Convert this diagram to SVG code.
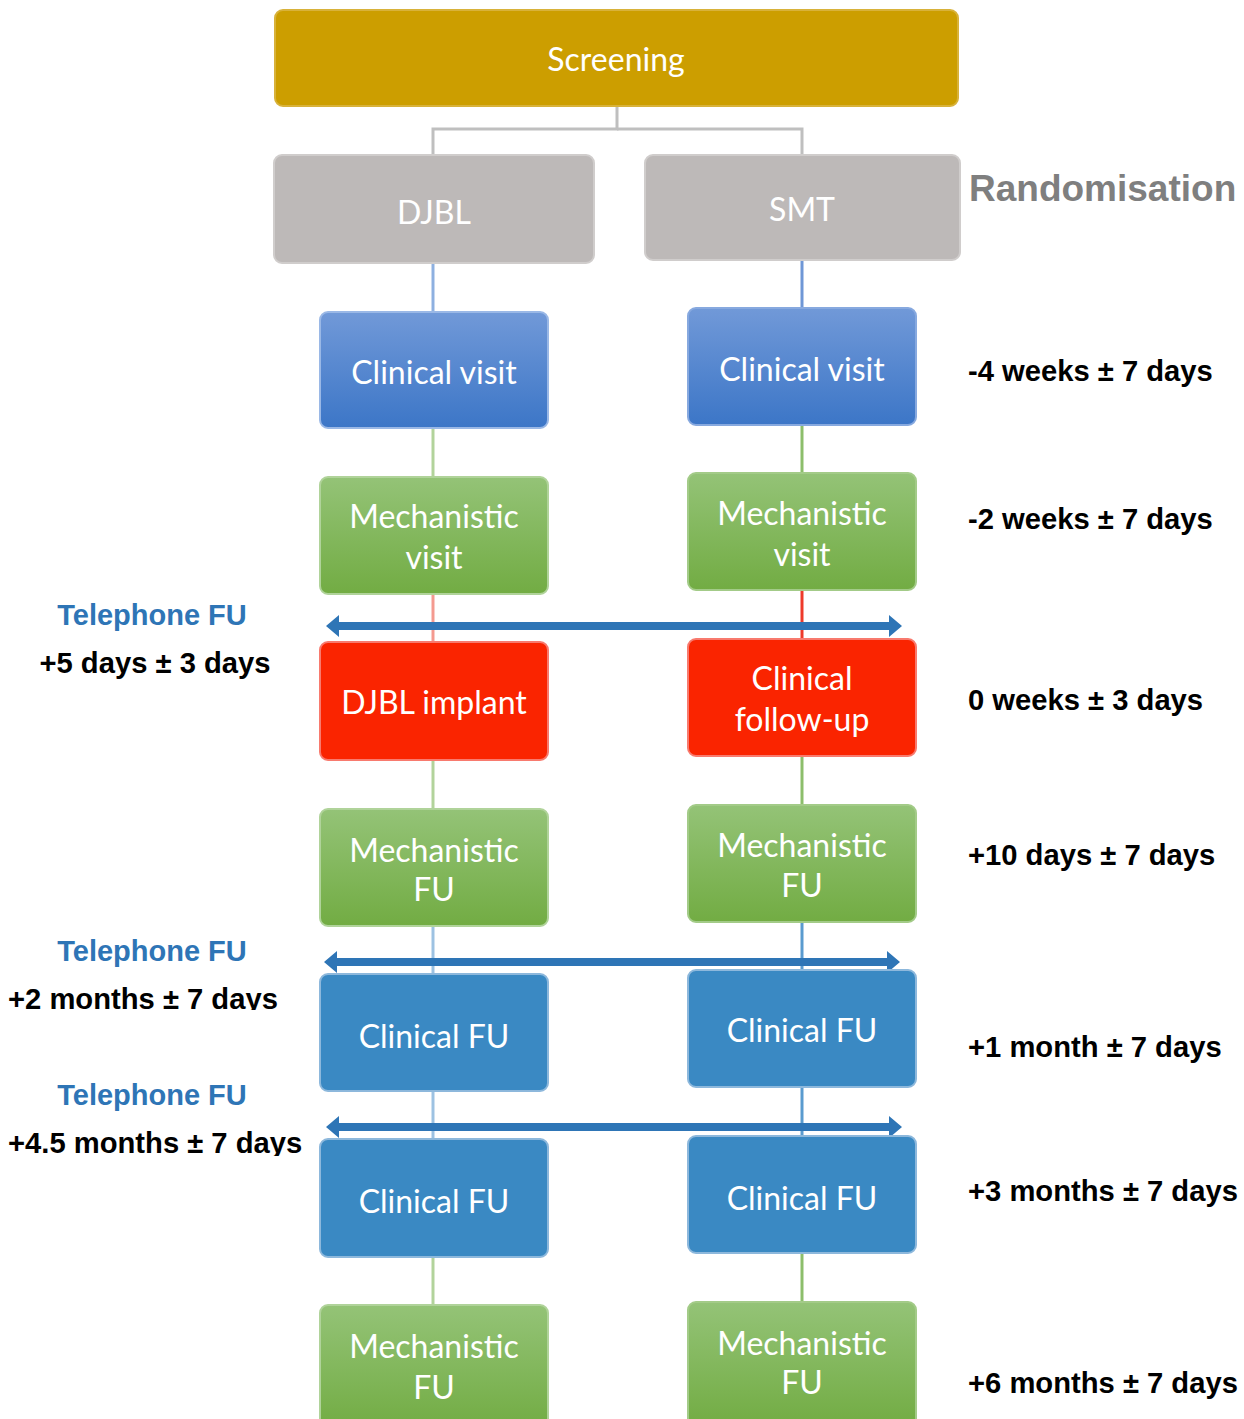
<svg xmlns="http://www.w3.org/2000/svg" width="1244" height="1419" viewBox="0 0 1244 1419">
<defs>
<linearGradient id="gBlue" x1="0" y1="0" x2="0" y2="1"><stop offset="0" stop-color="#7199D8"/><stop offset="1" stop-color="#3C76C7"/></linearGradient>
<linearGradient id="gGreen" x1="0" y1="0" x2="0" y2="1"><stop offset="0" stop-color="#94C377"/><stop offset="1" stop-color="#72AC43"/></linearGradient>
<clipPath id="clip2"><rect x="0" y="0" width="320" height="1010"/></clipPath>
<clipPath id="clip3"><rect x="0" y="0" width="320" height="1156"/></clipPath>
</defs>
<style>
.node{stroke-width:2}
.t{font-family:Lato,"Open Sans",sans-serif;font-size:32px;fill:#fff;text-anchor:middle}
.lbl{font-family:"Liberation Sans",Arial,sans-serif;font-weight:bold;font-size:29.2px;fill:#000}
.tel{font-family:"Liberation Sans",Arial,sans-serif;font-weight:bold;font-size:29px;fill:#2E75B6;text-anchor:middle}
.c{fill:none;stroke-width:3}
</style>
<g id="connectors">
<polyline class="c" points="617,106 617,129 433,129 433,155" stroke="#BFBFBF"/>
<polyline class="c" points="617,129 802,129 802,155" stroke="#BFBFBF"/>
<line class="c" x1="433" y1="263" x2="433" y2="312" stroke="#8EB0E0"/>
<line class="c" x1="802" y1="260" x2="802" y2="308" stroke="#6F97D6"/>
<line class="c" x1="433" y1="428" x2="433" y2="477" stroke="#B2D39B"/>
<line class="c" x1="802" y1="425" x2="802" y2="473" stroke="#8CBE6B"/>
<line class="c" x1="433" y1="594" x2="433" y2="642" stroke="#F49A90"/>
<line class="c" x1="802" y1="590" x2="802" y2="639" stroke="#EE3A2A"/>
<line class="c" x1="433" y1="760" x2="433" y2="809" stroke="#B2D39B"/>
<line class="c" x1="802" y1="756" x2="802" y2="805" stroke="#8CBE6B"/>
<line class="c" x1="433" y1="926" x2="433" y2="974" stroke="#9DC2E2"/>
<line class="c" x1="802" y1="922" x2="802" y2="970" stroke="#5A9BCF"/>
<line class="c" x1="433" y1="1091" x2="433" y2="1139" stroke="#9DC2E2"/>
<line class="c" x1="802" y1="1087" x2="802" y2="1136" stroke="#5A9BCF"/>
<line class="c" x1="433" y1="1257" x2="433" y2="1305" stroke="#B2D39B"/>
<line class="c" x1="802" y1="1253" x2="802" y2="1302" stroke="#8CBE6B"/>
<polygon points="326,626 339,615 339,622 889,622 889,615 902,626 889,637 889,630 339,630 339,637" fill="#2E75B6"/>
<polygon points="324,962 337,951 337,958 887,958 887,951 900,962 887,973 887,966 337,966 337,973" fill="#2E75B6"/>
<polygon points="326,1127 339,1116 339,1123 889,1123 889,1116 902,1127 889,1138 889,1131 339,1131 339,1138" fill="#2E75B6"/>
</g>
<g id="screening"><rect class="node" x="275" y="10" width="683" height="96" rx="8" fill="#CC9E00" stroke="#D8B23A"/><text class="t" x="616" y="71">Screening</text></g>
<g id="djbl"><rect class="node" x="274" y="155" width="320" height="108" rx="8" fill="#BDB9B8" stroke="#D0CDCC"/><text class="t" x="434" y="224">DJBL</text></g>
<g id="smt"><rect class="node" x="645" y="155" width="315" height="105" rx="8" fill="#BDB9B8" stroke="#D0CDCC"/><text class="t" x="802" y="221">SMT</text></g>
<text id="randomisation" x="969" y="201" font-family="Liberation Sans, Arial, sans-serif" font-weight="bold" font-size="37" fill="#7F7F7F">Randomisation</text>
<g id="cv-l"><rect class="node" x="320" y="312" width="228" height="116" rx="8" fill="url(#gBlue)" stroke="#9AB8E6"/><text class="t" x="434" y="384">Clinical visit</text></g>
<g id="cv-r"><rect class="node" x="688" y="308" width="228" height="117" rx="8" fill="url(#gBlue)" stroke="#87A9DF"/><text class="t" x="802" y="381">Clinical visit</text></g>
<g id="mv-l"><rect class="node" x="320" y="477" width="228" height="117" rx="8" fill="url(#gGreen)" stroke="#B0D39A"/><text class="t" x="434" y="528">Mechanistic</text><text class="t" x="434" y="569">visit</text></g>
<g id="mv-r"><rect class="node" x="688" y="473" width="228" height="117" rx="8" fill="url(#gGreen)" stroke="#A3CB88"/><text class="t" x="802" y="525">Mechanistic</text><text class="t" x="802" y="566">visit</text></g>
<g id="impl-l"><rect class="node" x="320" y="642" width="228" height="118" rx="8" fill="#FA2400" stroke="#F87A6E"/><text class="t" x="434" y="714">DJBL implant</text></g>
<g id="cfu-r"><rect class="node" x="688" y="639" width="228" height="117" rx="8" fill="#FA2400" stroke="#F87A6E"/><text class="t" x="802" y="690">Clinical</text><text class="t" x="802" y="731">follow-up</text></g>
<g id="mfu1-l"><rect class="node" x="320" y="809" width="228" height="117" rx="8" fill="url(#gGreen)" stroke="#B0D39A"/><text class="t" x="434" y="862">Mechanistic</text><text class="t" x="434" y="901">FU</text></g>
<g id="mfu1-r"><rect class="node" x="688" y="805" width="228" height="117" rx="8" fill="url(#gGreen)" stroke="#A3CB88"/><text class="t" x="802" y="857">Mechanistic</text><text class="t" x="802" y="897">FU</text></g>
<g id="cfu1-l"><rect class="node" x="320" y="974" width="228" height="117" rx="8" fill="#3A89C3" stroke="#8DB8DC"/><text class="t" x="434" y="1048">Clinical FU</text></g>
<g id="cfu1-r"><rect class="node" x="688" y="970" width="228" height="117" rx="8" fill="#3A89C3" stroke="#8DB8DC"/><text class="t" x="802" y="1042">Clinical FU</text></g>
<g id="cfu2-l"><rect class="node" x="320" y="1139" width="228" height="118" rx="8" fill="#3A89C3" stroke="#8DB8DC"/><text class="t" x="434" y="1213">Clinical FU</text></g>
<g id="cfu2-r"><rect class="node" x="688" y="1136" width="228" height="117" rx="8" fill="#3A89C3" stroke="#8DB8DC"/><text class="t" x="802" y="1210">Clinical FU</text></g>
<g id="mfu2-l"><rect class="node" x="320" y="1305" width="228" height="124" rx="8" fill="url(#gGreen)" stroke="#B0D39A"/><text class="t" x="434" y="1358">Mechanistic</text><text class="t" x="434" y="1399">FU</text></g>
<g id="mfu2-r"><rect class="node" x="688" y="1302" width="228" height="124" rx="8" fill="url(#gGreen)" stroke="#A3CB88"/><text class="t" x="802" y="1355">Mechanistic</text><text class="t" x="802" y="1394">FU</text></g>
<g id="labels-right">
<text class="lbl" x="968" y="381">-4 weeks ± 7 days</text>
<text class="lbl" x="968" y="529">-2 weeks ± 7 days</text>
<text class="lbl" x="968" y="710">0 weeks ± 3 days</text>
<text class="lbl" x="968" y="865">+10 days ± 7 days</text>
<text class="lbl" x="968" y="1057">+1 month ± 7 days</text>
<text class="lbl" x="968" y="1201">+3 months ± 7 days</text>
<text class="lbl" x="968" y="1393">+6 months ± 7 days</text>
</g>
<g id="labels-left">
<text class="tel" x="152" y="625">Telephone FU</text>
<text class="lbl" x="155" y="673" text-anchor="middle">+5 days ± 3 days</text>
<text class="tel" x="152" y="961">Telephone FU</text>
<text class="lbl" x="8" y="1009" clip-path="url(#clip2)">+2 months ± 7 days</text>
<text class="tel" x="152" y="1105">Telephone FU</text>
<text class="lbl" x="8" y="1153" clip-path="url(#clip3)">+4.5 months ± 7 days</text>
</g>
</svg>
